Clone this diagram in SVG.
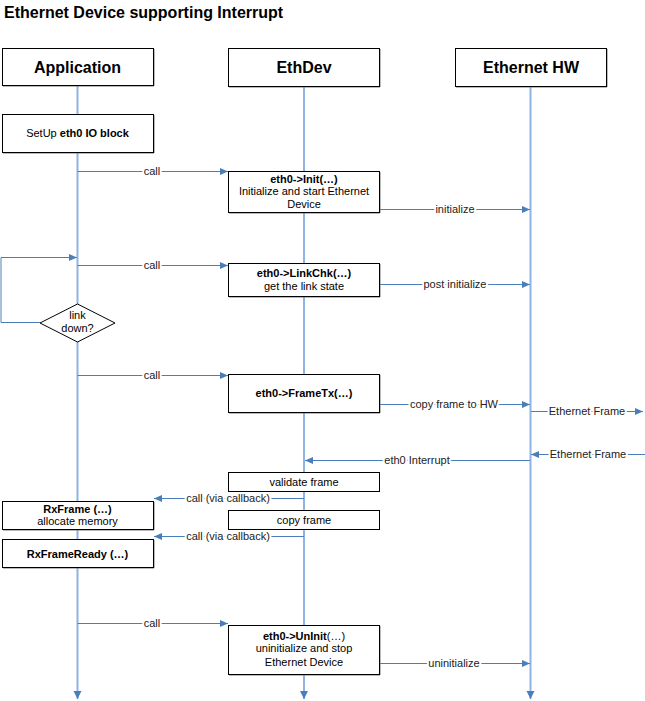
<svg xmlns="http://www.w3.org/2000/svg" width="645" height="701" viewBox="0 0 645 701">
  <defs>
    <style>
      .title { font: bold 16px "Liberation Sans", Arial, sans-serif; fill: #000; }
      .head { font: bold 16px "Liberation Sans", Arial, sans-serif; fill: #000; text-anchor: middle; }
      .t { font: 11px "Liberation Sans", Arial, sans-serif; fill: #000; text-anchor: middle; }
      .b { font-weight: bold; }
      .lbl { font: 11px "Liberation Sans", Arial, sans-serif; fill: #222; text-anchor: middle; paint-order: stroke; stroke: #fff; stroke-width: 4px; stroke-linejoin: round; }
      .box { fill: #fff; stroke: #000; stroke-width: 1; }
      .shadow { fill: none; stroke: #777; stroke-width: 1; }
      .life { stroke: #8EB4E3; stroke-width: 2; fill: none; }
      .msg { stroke: #4A7EBB; stroke-width: 1; fill: none; }
    </style>
    <marker id="arr" markerUnits="userSpaceOnUse" markerWidth="9" markerHeight="8" refX="8" refY="3.5" orient="auto">
      <path d="M0,0 L8,3.5 L0,7 z" fill="#4A7EBB"/>
    </marker>
    <marker id="arrLife" markerUnits="userSpaceOnUse" markerWidth="9" markerHeight="9" refX="8" refY="4" orient="auto">
      <path d="M0,0 L8,4 L0,8 z" fill="#4A7EBB"/>
    </marker>
  </defs>

  <rect width="645" height="701" fill="#fff"/>

  <text class="title" x="4" y="18">Ethernet Device supporting Interrupt</text>

  <!-- lifelines -->
  <g id="lifelines">
    <line class="life" x1="77.5" y1="86" x2="77.5" y2="699" marker-end="url(#arrLife)"/>
    <line class="life" x1="304" y1="86" x2="304" y2="699" marker-end="url(#arrLife)"/>
    <line class="life" x1="530.5" y1="86" x2="530.5" y2="699" marker-end="url(#arrLife)"/>
  </g>

  <!-- connectors -->
  <g id="connectors">
    <line class="msg" x1="77.5" y1="171.5" x2="228" y2="171.5" marker-end="url(#arr)"/>
    <line class="msg" x1="379" y1="209.5" x2="530" y2="209.5" marker-end="url(#arr)"/>
    <path class="msg" d="M40,322.5 H1 V257.5 H77" marker-end="url(#arr)"/>
    <line class="msg" x1="77.5" y1="265.5" x2="228" y2="265.5" marker-end="url(#arr)"/>
    <line class="msg" x1="379" y1="284.5" x2="530" y2="284.5" marker-end="url(#arr)"/>
    <line class="msg" x1="77.5" y1="375.5" x2="228" y2="375.5" marker-end="url(#arr)"/>
    <line class="msg" x1="379" y1="404.5" x2="530" y2="404.5" marker-end="url(#arr)"/>
    <line class="msg" x1="531" y1="411.5" x2="643" y2="411.5" marker-end="url(#arr)"/>
    <line class="msg" x1="645" y1="454.5" x2="531" y2="454.5" marker-end="url(#arr)"/>
    <line class="msg" x1="530" y1="460.5" x2="305" y2="460.5" marker-end="url(#arr)"/>
    <line class="msg" x1="304" y1="498.5" x2="154" y2="498.5" marker-end="url(#arr)"/>
    <line class="msg" x1="304" y1="536.5" x2="154" y2="536.5" marker-end="url(#arr)"/>
    <line class="msg" x1="77.5" y1="623.5" x2="228" y2="623.5" marker-end="url(#arr)"/>
    <line class="msg" x1="379" y1="663.5" x2="530" y2="663.5" marker-end="url(#arr)"/>

    <text class="lbl" x="152" y="175">call</text>
    <text class="lbl" x="455" y="213">initialize</text>
    <text class="lbl" x="152" y="269">call</text>
    <text class="lbl" x="455" y="288">post initialize</text>
    <text class="lbl" x="152" y="379">call</text>
    <text class="lbl" x="454" y="408">copy frame to HW</text>
    <text class="lbl" x="587" y="415">Ethernet Frame</text>
    <text class="lbl" x="588" y="458">Ethernet Frame</text>
    <text class="lbl" x="417" y="464">eth0 Interrupt</text>
    <text class="lbl" x="228" y="502">call (via callback)</text>
    <text class="lbl" x="228" y="540">call (via callback)</text>
    <text class="lbl" x="152" y="627">call</text>
    <text class="lbl" x="454" y="667">uninitialize</text>
  </g>

  <!-- participants -->
  <g id="application">
    <path class="shadow" d="M154,49 V86 H3"/>
    <rect class="box" x="2.5" y="48.5" width="151" height="37"/>
    <text class="head" x="77.5" y="73">Application</text>
  </g>
  <g id="ethdev">
    <path class="shadow" d="M380,49 V87 H229"/>
    <rect class="box" x="228.5" y="48.5" width="151" height="38"/>
    <text class="head" x="304" y="73">EthDev</text>
  </g>
  <g id="ethernet-hw">
    <path class="shadow" d="M607,49 V87 H456"/>
    <rect class="box" x="455.5" y="48.5" width="151" height="38"/>
    <text class="head" x="531" y="73">Ethernet HW</text>
  </g>

  <!-- activities -->
  <g id="setup">
    <path class="shadow" d="M154,115 V153 H3"/>
    <rect class="box" x="2.5" y="114.5" width="151" height="38"/>
    <text class="t" x="77.5" y="137">SetUp <tspan class="b">eth0 IO block</tspan></text>
  </g>
  <g id="init">
    <path class="shadow" d="M380,172 V213 H229"/>
    <rect class="box" x="228.5" y="171.5" width="151" height="41"/>
    <text class="t" x="304" y="183"><tspan class="b">eth0-&gt;Init(…)</tspan></text>
    <text class="t" x="304" y="195">Initialize and start Ethernet</text>
    <text class="t" x="304" y="208">Device</text>
  </g>
  <g id="linkchk">
    <path class="shadow" d="M380,264 V297 H229"/>
    <rect class="box" x="228.5" y="263.5" width="151" height="33"/>
    <text class="t" x="304" y="277"><tspan class="b">eth0-&gt;LinkChk(…)</tspan></text>
    <text class="t" x="304" y="290">get the link state</text>
  </g>
  <g id="link-down">
    <polygon points="77.5,304 115,323 77.5,342 40,323" fill="#fff" stroke="#000" stroke-width="1"/>
    <text class="t" x="77.5" y="319">link</text>
    <text class="t" x="77.5" y="332">down?</text>
  </g>
  <g id="frametx">
    <path class="shadow" d="M380,375 V413 H229"/>
    <rect class="box" x="228.5" y="374.5" width="151" height="38"/>
    <text class="t" x="304" y="397"><tspan class="b">eth0-&gt;FrameTx(…)</tspan></text>
  </g>
  <g id="validate">
    <rect class="box" x="228.5" y="472.5" width="151" height="19"/>
    <text class="t" x="304" y="486">validate frame</text>
  </g>
  <g id="rxframe">
    <path class="shadow" d="M154,502 V530 H3"/>
    <rect class="box" x="2.5" y="501.5" width="151" height="28"/>
    <text class="t" x="77.5" y="513"><tspan class="b">RxFrame (…)</tspan></text>
    <text class="t" x="77.5" y="525">allocate memory</text>
  </g>
  <g id="copyframe">
    <rect class="box" x="228.5" y="510.5" width="151" height="19"/>
    <text class="t" x="304" y="524">copy frame</text>
  </g>
  <g id="rxframeready">
    <path class="shadow" d="M154,540 V568 H3"/>
    <rect class="box" x="2.5" y="539.5" width="151" height="28"/>
    <text class="t" x="77.5" y="558"><tspan class="b">RxFrameReady (…)</tspan></text>
  </g>
  <g id="uninit">
    <path class="shadow" d="M380,626 V675 H229"/>
    <rect class="box" x="228.5" y="625.5" width="151" height="49"/>
    <text class="t" x="304" y="640"><tspan class="b">eth0-&gt;UnInit</tspan>(…)</text>
    <text class="t" x="304" y="652">uninitialize and stop</text>
    <text class="t" x="304" y="666">Ethernet Device</text>
  </g>
</svg>
